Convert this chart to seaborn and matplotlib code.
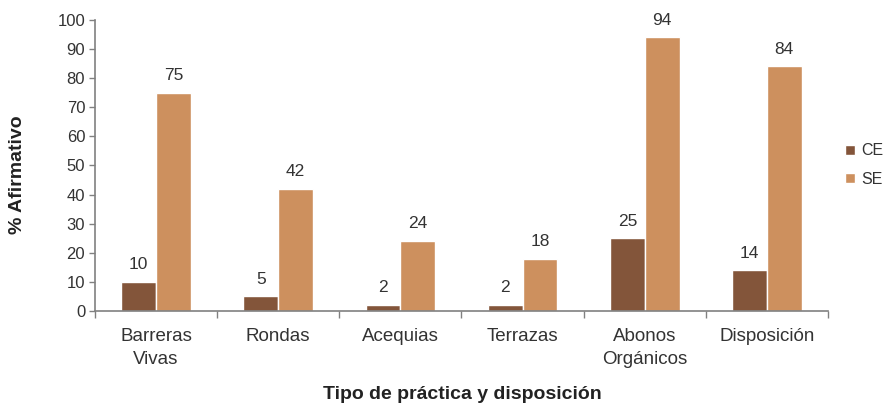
import matplotlib
matplotlib.use("Agg")
import matplotlib.pyplot as plt
import seaborn as sns
import pandas as pd
import numpy as np

categories = ["Barreras\nVivas", "Rondas", "Acequias", "Terrazas", "Abonos\nOrgánicos", "Disposición"]
ce_values = [10, 5, 2, 2, 25, 14]
se_values = [75, 42, 24, 18, 94, 84]
series_names = ["CE", "SE"]
palette = {"CE": "#83553A", "SE": "#CD905E"}

df = pd.DataFrame({
    "categoria": categories * 2,
    "valor": ce_values + se_values,
    "serie": ["CE"] * len(categories) + ["SE"] * len(categories),
})

sns.set_theme(style="white")
plt.rcParams["font.family"] = ["Liberation Sans", "DejaVu Sans"]

fig = plt.figure(figsize=(8.87, 4.05), dpi=100)
ax = fig.add_axes([0.107, 0.232, 0.8265, 0.719])

sns.barplot(data=df, x="categoria", y="valor", hue="serie", hue_order=series_names,
            palette=palette, width=0.57, saturation=1, ax=ax, legend=True)

for container in ax.containers:
    ax.bar_label(container, fmt="%d", padding=7, fontsize=12.5, color="#333333")

ax.set_ylim(0, 100)
ax.set_xlim(-0.5, len(categories) - 0.5)
ax.set_yticks(np.arange(0, 101, 10))
ax.tick_params(axis="y", labelsize=12, colors="#808080", labelcolor="#333333",
               left=True, length=4, width=1, pad=3)
ax.tick_params(axis="x", labelsize=13.5, labelcolor="#333333", bottom=False, pad=6)
for lbl in ax.get_xticklabels():
    lbl.set_linespacing(1.45)
ax.set_xticks(np.arange(-0.5, len(categories), 1.0), minor=True)
ax.tick_params(axis="x", which="minor", bottom=True, length=5, color="#808080", width=1)

for side in ["top", "right"]:
    ax.spines[side].set_visible(False)
for side in ["left", "bottom"]:
    ax.spines[side].set_color("#808080")
    ax.spines[side].set_linewidth(1.2)

ax.set_ylabel("")
ax.set_xlabel("")
fig.text(18 / 887, 1 - 175 / 405, "% Afirmativo", rotation=90, ha="center", va="center",
         fontsize=14, fontweight="bold", color="#222222")
fig.text(462 / 887, 2 / 405, "Tipo de práctica y disposición", ha="center", va="bottom",
         fontsize=14, fontweight="bold", color="#222222")

ax.legend(loc="center left", bbox_to_anchor=(845 / 887, 1 - 165 / 405),
          bbox_transform=fig.transFigure, borderaxespad=0, borderpad=0,
          frameon=False, fontsize=11.5,
          handlelength=0.6, handleheight=0.6, handletextpad=0.4, labelspacing=0.85,
          labelcolor="#333333")

fig.savefig("out.png", dpi=100)
